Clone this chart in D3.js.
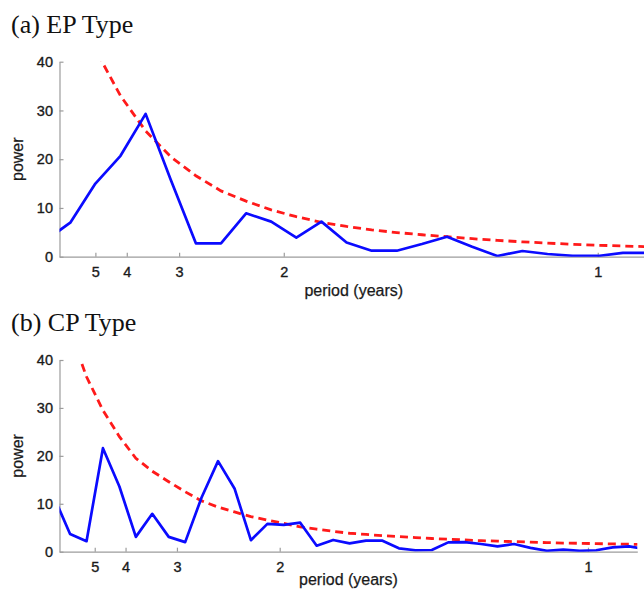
<!DOCTYPE html>
<html>
<head>
<meta charset="utf-8">
<script src="https://cdn.jsdelivr.net/npm/d3@7"></script>
<style>
  body { margin: 0; background: #fff; }
  svg { display: block; }
  .title { font-family: "Liberation Serif", "Times New Roman", serif; font-size: 26px; fill: #111; }
  .axis path, .axis line { stroke: #9c9c9c; stroke-width: 1.2; }
  .axis text { font-family: "Liberation Sans", Arial, sans-serif; font-size: 14.5px; fill: #1a1a1a; stroke: #1a1a1a; stroke-width: 0.35; }
  .label { font-family: "Liberation Sans", Arial, sans-serif; font-size: 16px; fill: #1a1a1a; stroke: #1a1a1a; stroke-width: 0.25; }
</style>
</head>
<body>
<svg id="chart" width="644" height="589"></svg>
<script>
// period tick labels (years), placed at frequency 1/period
const periodTicks = [5, 4, 3, 2, 1];
const powerTicks = [0, 10, 20, 30, 40];

// (a) EP type: frequency (cycles/year), spectrum power, red-noise threshold
const freqA = [0.12, 0.16, 0.20, 0.24, 0.28, 0.32, 0.36, 0.40, 0.44, 0.48, 0.52, 0.56, 0.60,
  0.64, 0.68, 0.72, 0.76, 0.80, 0.84, 0.88, 0.92, 0.96, 1.00, 1.04, 1.08];
const powerA = [3.3, 6.97, 15.0, 20.7, 29.3, 15.8, 2.75, 2.75, 8.9, 7.2, 3.9, 7.2, 2.9,
  1.23, 1.23, 2.6, 4.1, 2.05, 0.15, 1.17, 0.55, 0.2, 0.15, 0.8, 0.8];
const redA = [80, 58, 42.5, 33, 25.8, 20.5, 16.6, 13.5, 11.4, 9.6, 8.2, 7.05, 6.2,
  5.5, 4.95, 4.5, 4.1, 3.7, 3.35, 3.05, 2.78, 2.55, 2.35, 2.2, 2.05];

// (b) CP type
const freqB = [0.1333, 0.16, 0.1867, 0.2133, 0.24, 0.2667, 0.2933, 0.32, 0.3467, 0.3733,
  0.40, 0.4267, 0.4533, 0.48, 0.5067, 0.5333, 0.56, 0.5867, 0.6133, 0.64, 0.6667, 0.6933,
  0.72, 0.7467, 0.7733, 0.80, 0.8267, 0.8533, 0.88, 0.9067, 0.9333, 0.96, 0.9867, 1.0133,
  1.04, 1.0667, 1.0933];
const powerB = [11.6, 3.7, 2.2, 21.6, 13.6, 3.1, 7.9, 3.1, 2.0, 11.3,
  18.9, 13.2, 2.4, 5.8, 5.6, 6.05, 1.25, 2.45, 1.75, 2.3, 2.3, 0.7,
  0.3, 0.35, 1.95, 2.0, 1.6, 1.1, 1.6, 0.8, 0.2, 0.45, 0.2, 0.3,
  0.9, 1.1, 0.5];
const redB = [60, 46, 36.5, 29.5, 24.0, 19.5, 16.8, 14.6, 12.5, 10.6,
  9.3, 8.3, 7.3, 6.6, 5.9, 5.2, 4.7, 4.25, 3.85, 3.6, 3.35, 3.15,
  2.95, 2.75, 2.6, 2.45, 2.3, 2.2, 2.1, 2.0, 1.9, 1.8, 1.75, 1.68,
  1.62, 1.56, 1.5];

const svg = d3.select("#chart");

function drawPanel(p) {
    const x = d3.scaleLinear().domain([1 / 7, 1.08]).range([p.left, p.right]);
    const y = d3.scaleLinear().domain([0, 40]).range([p.bottom, p.top]);

    svg.append("text").attr("class", "title")
        .attr("x", 11).attr("y", p.titleY).text(p.title);

    svg.append("defs").append("clipPath").attr("id", p.id)
        .append("rect")
        .attr("x", p.left).attr("y", p.top)
        .attr("width", p.right - p.left).attr("height", p.bottom - p.top);

    svg.append("g").attr("class", "axis")
        .attr("transform", `translate(${p.left},0)`)
        .call(d3.axisLeft(y).tickValues(powerTicks).tickSizeInner(-4).tickSizeOuter(0).tickPadding(6.5));

    svg.append("g").attr("class", "axis")
        .attr("transform", `translate(0,${p.bottom})`)
        .call(d3.axisBottom(x).tickValues(periodTicks.map(d => 1 / d))
            .tickFormat(d => Math.round(1 / d)).tickSizeInner(-4).tickSizeOuter(0).tickPadding(10));

    svg.append("text").attr("class", "label")
        .attr("transform", `translate(23,${(p.top + p.bottom) / 2}) rotate(-90)`)
        .attr("text-anchor", "middle").text("power");

    svg.append("text").attr("class", "label")
        .attr("x", (p.left + p.right) / 2).attr("y", p.xLabelY)
        .attr("text-anchor", "middle").text("period (years)");

    const line = d3.line().x(d => x(d[0])).y(d => y(d[1]));
    const plot = svg.append("g").attr("clip-path", `url(#${p.id})`);

    plot.append("path")
        .datum(p.freq.map((f, i) => [f, p.red[i]]))
        .attr("d", line)
        .attr("fill", "none").attr("stroke", "#ff1a1a")
        .attr("stroke-width", 2.8).attr("stroke-dasharray", "8,5");

    plot.append("path")
        .datum(p.freq.map((f, i) => [f, p.power[i]]))
        .attr("d", line)
        .attr("fill", "none").attr("stroke", "#0b0bff")
        .attr("stroke-width", 2.7).attr("stroke-linejoin", "round");
}

drawPanel({
    id: "clipA", title: "(a) EP Type", titleY: 33,
    left: 59.5, right: 648, top: 61.7, bottom: 256.7, xLabelY: 296,
    freq: freqA, power: powerA, red: redA
});

drawPanel({
    id: "clipB", title: "(b) CP Type", titleY: 330.5,
    left: 59.5, right: 637.3, top: 360, bottom: 551.7, xLabelY: 585,
    freq: freqB, power: powerB, red: redB
});
</script>
</body>
</html>
